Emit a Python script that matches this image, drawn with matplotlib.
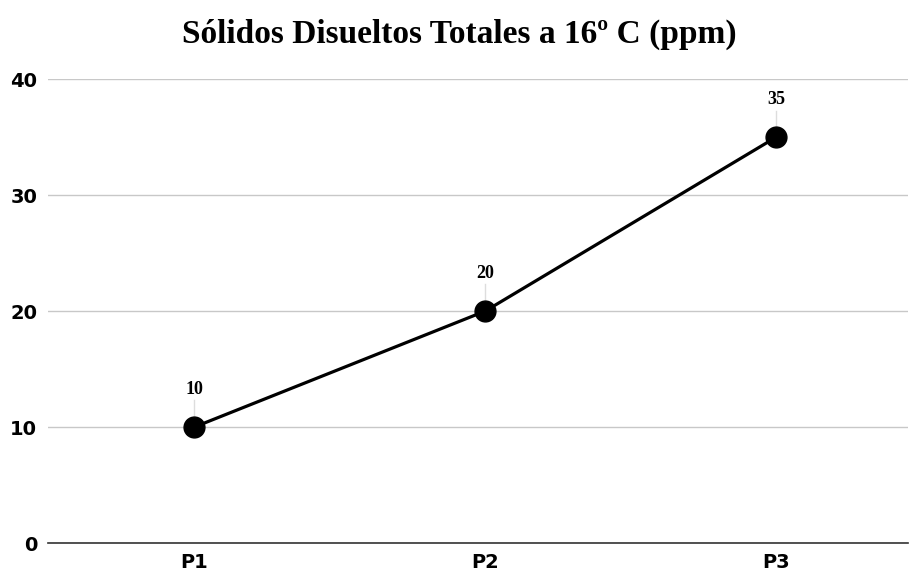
import matplotlib
matplotlib.use("Agg")
import matplotlib.pyplot as plt

categories = ["P1", "P2", "P3"]
values = [10, 20, 35]
yticks = [0, 10, 20, 30, 40]
title = "Sólidos Disueltos Totales a 16º C (ppm)"

fig = plt.figure(figsize=(9.1, 5.74), dpi=100)
ax = fig.add_axes([0.053, 0.054, 0.945, 0.808])

x = list(range(len(categories)))
ax.plot(x, values, color="black", linewidth=2.3, marker="o", markersize=15, zorder=3)

for xi, v in zip(x, values):
    ax.plot([xi, xi], [v + 0.6, v + 2.3], color="#dddddd", linewidth=1, zorder=1)
    ax.annotate(str(v), (xi, v), xytext=(0, 21), textcoords="offset points",
                ha="center", va="bottom", fontsize=13, fontweight="bold",
                family="Liberation Serif")

ax.set_xlim(-0.502, 2.454)
ax.set_ylim(0, 40)
ax.set_yticks(yticks)
ax.set_xticks(x)
ax.set_xticklabels(categories)
ax.grid(axis="y", color="#c8c8c8", linewidth=1)
ax.set_axisbelow(True)
for s in ["top", "right", "left"]:
    ax.spines[s].set_visible(False)
ax.spines["bottom"].set_color("#333333")
ax.spines["bottom"].set_linewidth(1.2)
ax.tick_params(length=0, labelsize=14)
for lab in ax.get_xticklabels() + ax.get_yticklabels():
    lab.set_fontweight("heavy")
    lab.set_family("DejaVu Sans")
ax.tick_params(axis="y", pad=8)
ax.tick_params(axis="x", pad=7)

fig.text(0.505, 0.94, title, ha="center", va="center", fontsize=24,
         fontweight="bold", family="Liberation Serif")

fig.savefig("out.png", dpi=100)
